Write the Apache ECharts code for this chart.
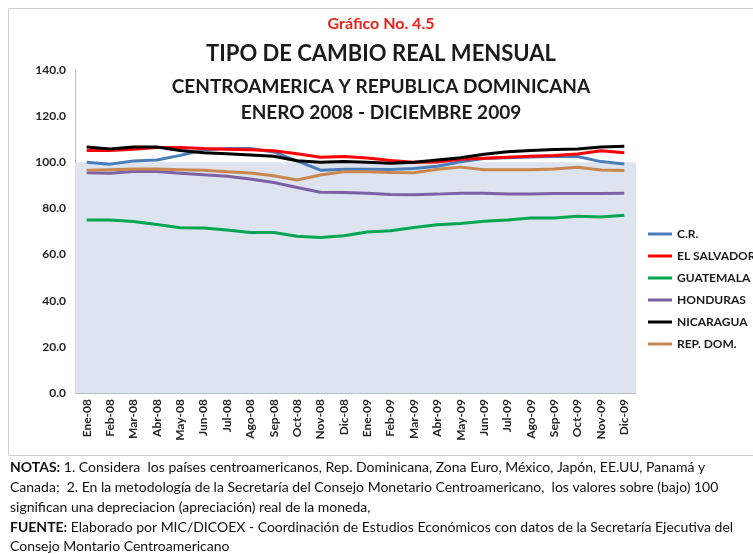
<!DOCTYPE html>
<html>
<head>
<meta charset="utf-8">
<script src="https://cdn.jsdelivr.net/npm/echarts@6/dist/echarts.min.js"></script>
<style>
  html, body { margin: 0; padding: 0; background: #fff; }
  #chart { width: 753px; height: 554px; }
</style>
</head>
<body>
<div id="chart"></div>
<script>
const MONTHS = ['Ene-08','Feb-08','Mar-08','Abr-08','May-08','Jun-08','Jul-08','Ago-08','Sep-08','Oct-08','Nov-08','Dic-08',
                'Ene-09','Feb-09','Mar-09','Abr-09','May-09','Jun-09','Jul-09','Ago-09','Sep-09','Oct-09','Nov-09','Dic-09']

const CR       = [100.0, 99.2, 100.6, 101.0, 103.0, 105.3, 106.0, 106.0, 104.5, 100.6, 96.6, 97.0, 97.0, 96.9, 97.3, 98.3, 100.2, 101.6, 102.0, 102.3, 102.5, 102.5, 100.3, 99.3]
const SALVADOR = [105.1, 105.1, 105.7, 106.4, 106.4, 106.0, 105.7, 105.4, 105.0, 103.7, 102.2, 102.5, 101.9, 100.8, 100.0, 100.1, 101.3, 101.8, 102.2, 102.6, 102.9, 103.6, 105.0, 104.1]
const GUATE    = [75.0, 75.0, 74.3, 73.0, 71.6, 71.5, 70.6, 69.6, 69.6, 67.9, 67.4, 68.2, 69.8, 70.3, 71.7, 72.9, 73.5, 74.4, 75.0, 75.8, 75.8, 76.6, 76.3, 77.0]
const HONDURAS = [95.5, 95.3, 96.0, 96.0, 95.3, 94.6, 93.9, 92.8, 91.2, 89.1, 87.0, 86.9, 86.6, 86.0, 85.9, 86.2, 86.6, 86.6, 86.3, 86.3, 86.5, 86.5, 86.5, 86.6]
const NICA     = [106.6, 105.8, 106.6, 106.6, 105.1, 104.1, 103.7, 103.2, 102.6, 100.7, 100.0, 100.3, 100.0, 99.6, 100.0, 101.0, 102.0, 103.5, 104.6, 105.1, 105.5, 105.8, 106.6, 106.9]
const REPDOM   = [96.5, 96.8, 97.1, 97.1, 96.8, 96.5, 95.9, 95.4, 94.2, 92.3, 94.5, 95.9, 95.9, 95.6, 95.5, 97.0, 97.9, 96.8, 96.8, 96.8, 97.1, 97.8, 96.7, 96.4]

const BASE_LEVEL = 100
const Y_TICKS = [0, 20, 40, 60, 80, 100, 120, 140]

const FONT = 'Lato, "Open Sans", sans-serif'

const seriesDefs = [
  { name: 'C.R.',        data: CR,       color: '#4a7ebb' },
  { name: 'EL SALVADOR', data: SALVADOR, color: '#ff0000' },
  { name: 'GUATEMALA',   data: GUATE,    color: '#00a650' },
  { name: 'HONDURAS',    data: HONDURAS, color: '#7c61a6' },
  { name: 'NICARAGUA',   data: NICA,     color: '#000000' },
  { name: 'REP. DOM.',   data: REPDOM,   color: '#c9864f' },
]

const chart = echarts.init(document.getElementById('chart'), null, { renderer: 'canvas' })

const series = seriesDefs.map((s, i) => ({
  name: s.name,
  type: 'line',
  data: s.data,
  symbol: 'none',
  smooth: false,
  color: s.color,
  lineStyle: { width: 3, color: s.color },
  // light band from 0 up to the base level (100)
  ...(i === 0 ? {
    markArea: {
      silent: true,
      z: 1,
      itemStyle: { color: '#dde4ef' },
      data: [[{ yAxis: Y_TICKS[0] }, { yAxis: BASE_LEVEL }]],
    },
  } : {}),
}))

const titleText = (text, top, size, color) => ({
  text,
  left: 376,
  top,
  textAlign: 'center',
  textStyle: { fontFamily: FONT, fontSize: size, fontWeight: 'bold', color: color || '#1a1a1a' },
})

const rich = {
  b: { fontFamily: FONT, fontSize: 14, fontWeight: 'bold', color: '#111' },
  n: { fontFamily: FONT, fontSize: 14, color: '#111' },
}
const noteLine = (parts, y) => ({
  type: 'text',
  left: 10,
  top: y,
  style: {
    text: parts,
    rich,
    fontFamily: FONT,
    fontSize: 14,
    fill: '#111',
  },
})

chart.setOption({
  animation: false,
  backgroundColor: '#fff',
  title: [
    titleText('Gráfico No. 4.5', 11, 16, '#e8231b'),
    titleText('TIPO DE CAMBIO REAL MENSUAL', 38, 22),
    titleText('CENTROAMERICA Y REPUBLICA DOMINICANA', 72, 19),
    titleText('ENERO 2008 - DICIEMBRE 2009', 98, 19),
  ],
  legend: {
    orient: 'vertical',
    left: 643,
    top: 222,
    icon: 'rect',
    itemWidth: 24,
    itemHeight: 3,
    itemGap: 8,
    textStyle: { fontFamily: FONT, fontSize: 12, fontWeight: 'bold', color: '#1a1a1a', lineHeight: 14 },
    data: seriesDefs.map(s => s.name),
  },
  grid: { left: 75, top: 70, width: 561, height: 323 },
  xAxis: {
    type: 'category',
    data: MONTHS,
    boundaryGap: true,
    axisLine: { lineStyle: { color: '#bfbfbf', width: 1 } },
    axisTick: { show: false },
    axisLabel: {
      interval: 0,
      rotate: 90,
      margin: 6,
      fontFamily: FONT,
      fontSize: 12,
      fontWeight: 'bold',
      color: '#262626',
    },
  },
  yAxis: {
    type: 'value',
    min: Y_TICKS[0],
    max: Y_TICKS[Y_TICKS.length - 1],
    interval: Y_TICKS[1] - Y_TICKS[0],
    axisLine: { show: true, lineStyle: { color: '#bfbfbf', width: 1 } },
    axisTick: { show: false },
    splitLine: { show: false },
    axisLabel: {
      margin: 9,
      fontFamily: FONT,
      fontSize: 12,
      fontWeight: 'bold',
      color: '#262626',
      formatter: v => v.toFixed(1),
    },
  },
  graphic: [
    {
      type: 'rect',
      shape: { x: 8.5, y: 8.5, width: 800, height: 447 },
      style: { fill: 'none', stroke: '#d0d0d0', lineWidth: 1 },
      silent: true,
      z: -1,
    },
    noteLine('{b|NOTAS:}{n| 1. Considera  los países centroamericanos, Rep. Dominicana, Zona Euro, México, Japón, EE.UU, Panamá y}', 460),
    noteLine('{n|Canada;  2. En la metodología de la Secretaría del Consejo Monetario Centroamericano,  los valores sobre (bajo) 100}', 480),
    noteLine('{n|significan una depreciacion (apreciación) real de la moneda,}', 500),
    noteLine('{b|FUENTE:}{n| Elaborado por MIC/DICOEX - Coordinación de Estudios Económicos con datos de la Secretaría Ejecutiva del}', 520),
    noteLine('{n|Consejo Montario Centroamericano}', 539),
  ],
  series,
})
</script>
</body>
</html>
